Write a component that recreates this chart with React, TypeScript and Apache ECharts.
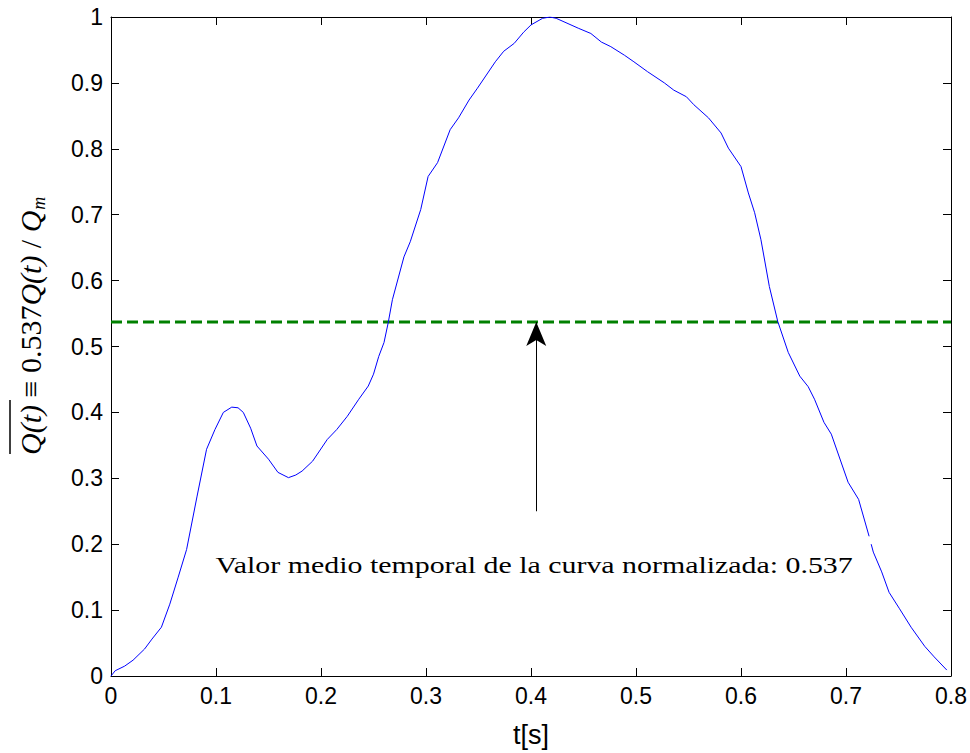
import React, { useEffect, useRef } from "react";
import * as echarts from "echarts";

const timeValues = [
  0, 0.004, 0.013, 0.021, 0.032, 0.039, 0.048, 0.056, 0.064, 0.072, 0.082, 0.091,
  0.099, 0.107, 0.115, 0.121, 0.126, 0.133, 0.139, 0.15, 0.159, 0.169, 0.176, 0.182,
  0.192, 0.206, 0.215, 0.225, 0.236, 0.245, 0.25, 0.255, 0.26, 0.264, 0.268, 0.279,
  0.285, 0.295, 0.302, 0.311, 0.323, 0.331, 0.341, 0.349, 0.366, 0.374, 0.384, 0.393,
  0.4, 0.411, 0.418, 0.424, 0.445, 0.457, 0.467, 0.476, 0.489, 0.498, 0.511, 0.527,
  0.536, 0.548, 0.555, 0.569, 0.581, 0.588, 0.6, 0.607, 0.613, 0.619, 0.627, 0.635,
  0.645, 0.656, 0.664, 0.67, 0.679, 0.686, 0.702, 0.712, 0.722, 0.723, 0.724, 0.726,
  0.734, 0.741, 0.751, 0.762, 0.775, 0.784, 0.796,
];
const flowValues: (number | null)[] = [
  0, 0.008, 0.015, 0.024, 0.041, 0.056, 0.074, 0.109, 0.15, 0.192, 0.273, 0.344,
  0.374, 0.4, 0.408, 0.407, 0.4, 0.376, 0.349, 0.329, 0.309, 0.301, 0.305, 0.311,
  0.326, 0.359, 0.374, 0.394, 0.42, 0.44, 0.458, 0.485, 0.506, 0.536, 0.571, 0.636,
  0.659, 0.708, 0.758, 0.779, 0.829, 0.847, 0.874, 0.892, 0.932, 0.948, 0.96, 0.977,
  0.988, 0.998, 1.0, 0.998, 0.983, 0.975, 0.962, 0.955, 0.942, 0.932, 0.917, 0.9,
  0.889, 0.879, 0.867, 0.847, 0.824, 0.801, 0.773, 0.733, 0.703, 0.662, 0.591, 0.538,
  0.491, 0.455, 0.439, 0.42, 0.385, 0.367, 0.294, 0.268, 0.212, null, 0.2, 0.188,
  0.158, 0.127, 0.102, 0.074, 0.045, 0.029, 0.009,
];
const meanValue = 0.537;
const meanLineRange = [0, 0.8];
const arrowT = 0.405;
const arrowFrom = 0.25;
const annotationPos = [0.403, 0.168];
const annotationText = "Valor medio temporal de la curva normalizada: 0.537";
const xTickMax = 0.8;
const yTickMax = 1;
const tickStep = 0.1;

export default function App() {
  const ref = useRef<HTMLDivElement>(null);
  useEffect(() => {
    if (!ref.current) return;
    const chart = echarts.init(ref.current, undefined, { renderer: "svg" });
    const sans = "Liberation Sans, Arial, sans-serif";
    const serif = "Liberation Serif, Times New Roman, serif";
    const curve = timeValues.map((t, i) => [t, flowValues[i]]);
    const axisCommon = {
      type: "value" as const,
      min: 0,
      interval: tickStep,
      axisLine: { show: true, onZero: false, lineStyle: { color: "#000", width: 1 } },
      axisTick: { show: true, inside: true, length: 8, lineStyle: { color: "#000", width: 1 } },
      splitLine: { show: false },
    };
    chart.setOption({
      animation: false,
      backgroundColor: "#fff",
      grid: { left: 111, right: 19, top: 17, bottom: 76, containLabel: false },
      xAxis: [
        {
          ...axisCommon,
          max: xTickMax,
          position: "bottom",
          name: "t[s]",
          nameLocation: "middle",
          nameGap: 45,
          nameTextStyle: { fontFamily: sans, fontSize: 27, color: "#000" },
          axisLabel: { fontFamily: sans, fontSize: 23, color: "#000", margin: 8 },
        },
        {
          ...axisCommon,
          max: xTickMax,
          position: "top",
          axisLabel: { show: false },
        },
      ],
      yAxis: [
        {
          ...axisCommon,
          max: yTickMax,
          position: "left",
          axisLabel: { fontFamily: sans, fontSize: 23, color: "#000", margin: 8 },
        },
        {
          ...axisCommon,
          max: yTickMax,
          position: "right",
          axisLabel: { show: false },
        },
      ],
      series: [
        {
          type: "line",
          data: curve,
          showSymbol: false,
          symbol: "none",
          connectNulls: false,
          lineStyle: { color: "#0000ff", width: 1 },
          z: 3,
        },
        {
          type: "line",
          data: meanLineRange.map((t) => [t, meanValue]),
          showSymbol: false,
          symbol: "none",
          lineStyle: { color: "#008000", width: 3, type: [11, 5] },
          z: 2,
          markLine: {
            silent: true,
            symbol: ["none", "arrow"],
            symbolSize: [15, 24],
            label: { show: false },
            lineStyle: { color: "#000", width: 1, type: "solid" },
            data: [[{ coord: [arrowT, arrowFrom] }, { coord: [arrowT, meanValue] }]],
          },
        },
      ],
    });
    const p = chart.convertToPixel({ xAxisIndex: 0, yAxisIndex: 0 }, annotationPos) as number[];
    chart.setOption({
      graphic: [
        {
          type: "text",
          x: p[0],
          y: p[1],
          scaleX: 1.3,
          style: {
            text: annotationText,
            fontFamily: serif,
            fontSize: 23,
            fill: "#000",
            textAlign: "center",
            textVerticalAlign: "middle",
          },
        },
        {
          type: "group",
          x: 30,
          y: 455,
          rotation: Math.PI / 2,
          children: [
            {
              type: "text",
              x: 0,
              y: 0,
              style: {
                text: "{i|Q(t)}{n| ≡ 0.537}{i|Q(t)}{n| / }{i|Q}{s|m}",
                textAlign: "left",
                textVerticalAlign: "middle",
                fill: "#000",
                rich: {
                  i: { fontFamily: serif, fontStyle: "italic", fontSize: 30, fill: "#000" },
                  n: { fontFamily: serif, fontSize: 30, fill: "#000" },
                  s: {
                    fontFamily: serif,
                    fontStyle: "italic",
                    fontSize: 18,
                    fill: "#000",
                    padding: [18, 0, 0, 1],
                  },
                },
              },
            },
            {
              type: "line",
              shape: { x1: 1, y1: -20, x2: 55, y2: -20 },
              style: { stroke: "#000", lineWidth: 1.5 },
            },
          ],
        },
      ],
    });
    return () => chart.dispose();
  }, []);
  return (
    <div
      ref={ref}
      style={{ position: "fixed", left: 0, top: 0, width: 970, height: 753 }}
    />
  );
}
